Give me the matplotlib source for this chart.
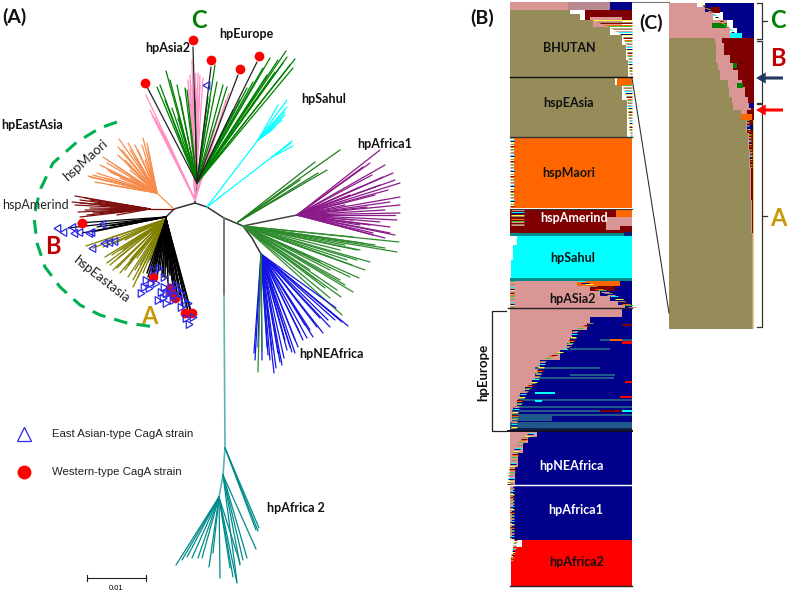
import numpy as np
import matplotlib
matplotlib.use('Agg')
from matplotlib import pyplot as plt
from matplotlib.collections import LineCollection

# colours
OLIVE_B = '#968c5a'
PINK_B = '#da9694'
NAVY = '#00008b'
DRED = '#7f0000'
ORANGE = '#ff6600'
CYAN = '#00ffff'
RED = '#ff0000'
GREEN = '#008000'
TEAL = '#008b8b'
STEEL = '#1f5a8a'
FRINGE = ['#ffff33', '#da9694', '#33cc33', '#968c5a', '#00ffff', '#da9694', '#7f0000', '#00008b', '#968c5a', '#ff6600']

#########################################
### Panel A tree in pixels
#########################################
backbone_left = [(195, 203), (174, 209), (166, 217)]
backbone_right = [(195, 203), (207, 207), (224, 218), (243, 226), (252, 238), (261, 254)]
africa1_stem = [(243, 226), (297, 215)]
asia_stem = [(195, 203), (195, 200), (197, 183)]
orange_stem = [(174, 209), (157, 193)]
dred_stem = [(174, 209), (150, 209)]
africa2_gray = [(224, 218), (224, 295)]
africa2_teal = [(224, 295), (225, 448), (223, 475), (219, 497)]

pink_tips = [(146, 95), (150, 110), (152, 115), (155, 118), (158, 125), (165, 135), (190, 75), (192, 60),
             (195, 73), (198, 73), (200, 75), (203, 78), (193, 90), (197, 95), (229, 93), (226, 100),
             (220, 110), (213, 130), (190, 90), (192, 85), (196, 88), (200, 85), (188, 80)]
europe_tips = [(166, 71), (157, 87), (160, 85), (170, 80), (177, 85), (185, 88), (165, 100), (180, 97),
               (187, 90), (195, 100), (172, 108), (178, 118), (215, 65), (217, 82), (223, 85), (227, 87),
               (208, 97), (210, 100), (286, 51), (295, 59), (293, 68), (287, 57), (278, 60), (270, 58),
               (263, 68), (253, 82), (283, 63), (290, 65), (267, 75), (247, 88), (233, 110), (240, 100),
               (255, 95), (275, 72)]
black_long = [(145, 83), (193, 47), (211, 67), (238, 75), (257, 62)]
cyan_tips_a = [(287, 100), (278, 105), (285, 112), (287, 107), (285, 115), (282, 120), (275, 127), (272, 130)]
cyan_tips_b = [(292, 141), (293, 146), (291, 143)]
maori_tips = [(119, 139), (128, 143), (143, 138), (147, 143), (118, 147), (103, 157), (97, 173), (90, 177),
              (107, 163), (88, 176), (95, 182), (110, 185), (123, 185), (130, 170), (150, 170), (138, 150),
              (125, 160), (115, 165), (148, 150), (105, 178), (140, 165), (122, 150), (130, 150), (135, 145),
              (142, 145), (100, 165), (93, 175), (110, 172), (120, 178), (130, 178), (140, 178), (145, 160),
              (128, 165), (118, 155), (108, 170), (135, 158)]
amerind_tips = [(75, 196), (72, 202), (80, 200), (85, 198), (78, 212), (87, 215), (80, 217), (93, 213),
                (107, 213), (117, 215), (80, 203), (100, 205), (90, 208), (110, 207), (125, 205),
                (90, 200), (95, 203), (75, 205), (85, 210), (100, 212), (112, 212)]
black_b_tips = [(68, 228), (78, 223), (97, 227), (82, 233), (100, 230), (92, 232), (110, 226), (120, 224)]
olive_tips = [(86, 246), (93, 248), (103, 247), (115, 243), (120, 250), (105, 257), (107, 263), (113, 270),
              (120, 273), (128, 277), (133, 287), (138, 277), (143, 273), (145, 263), (150, 260), (130, 260),
              (140, 250), (125, 240), (105, 240), (110, 265), (117, 268), (125, 270), (135, 270), (140, 265),
              (148, 262), (118, 258), (128, 265), (133, 280), (123, 250), (137, 258), (112, 255)]
black_a_tips = [(147, 273), (152, 270), (158, 267), (163, 277), (168, 283), (173, 287), (182, 300), (187, 307),
                (192, 315), (157, 277), (167, 267), (177, 293), (183, 307), (160, 270), (170, 275), (178, 285),
                (150, 280), (190, 310), (155, 272), (162, 273), (165, 278), (172, 280), (175, 290), (180, 295),
                (185, 300), (153, 275), (148, 277), (168, 272), (188, 312)]
green_up_tips = [(340, 150), (315, 162), (327, 170), (318, 173), (300, 180)]
green_right_tips = [(353, 237), (363, 243), (399, 242), (397, 252), (370, 262), (360, 250), (357, 250),
                    (359, 278), (353, 292), (341, 297), (330, 298), (350, 277), (340, 280), (342, 315),
                    (347, 260), (333, 258), (357, 260), (337, 290), (317, 280), (375, 245), (385, 248),
                    (345, 245), (352, 265), (365, 270), (345, 285), (325, 288), (310, 270), (330, 270),
                    (320, 262), (305, 255), (340, 250)]
nea_tips = [(348, 326), (336, 308), (323, 333), (313, 337), (307, 338), (295, 353), (290, 347), (282, 365),
            (274, 373), (270, 360), (254, 353), (258, 347), (267, 347), (300, 333), (278, 353), (287, 350),
            (255, 360), (330, 327), (317, 327), (295, 340), (342, 322), (328, 320), (310, 330), (303, 340),
            (298, 347), (292, 352), (284, 358), (280, 362), (276, 368), (262, 360), (268, 355), (272, 350),
            (285, 340), (305, 325), (320, 318), (335, 320)]
nea_green_tips = [(258, 372), (262, 351)]
purple_tips = [(380, 150), (370, 163), (363, 167), (393, 173), (400, 183), (380, 185), (400, 197), (390, 202),
               (400, 213), (397, 220), (390, 227), (390, 233), (373, 233), (353, 220), (367, 207), (360, 187),
               (383, 177), (395, 235), (373, 235), (385, 165), (372, 175), (395, 180), (388, 190), (375, 195),
               (400, 205), (385, 210), (395, 215), (380, 222), (370, 225), (360, 225), (385, 238), (350, 195),
               (345, 205)]
teal_right_tips = [(259, 528), (258, 531), (256, 530)]
teal_mid_tips = [(256, 549), (247, 558), (243, 560), (240, 565), (237, 582)]
teal_low_tips = [(176, 565), (182, 560), (187, 557), (192, 558), (198, 558), (202, 558), (209, 567), (213, 553),
                 (220, 578), (230, 568), (237, 583), (233, 577), (240, 563)]

tri_a = [(158, 268), (153, 270), (163, 277), (145, 280), (143, 287), (140, 293), (148, 288), (155, 283),
         (163, 287), (165, 293), (175, 285), (177, 290), (180, 293), (157, 300), (165, 303), (172, 300),
         (173, 295), (180, 307), (187, 303), (185, 318), (192, 317), (188, 324), (160, 292), (168, 293),
         (150, 283), (170, 287), (183, 300), (162, 298)]
tri_b = [(58, 228), (64, 232), (73, 227), (75, 233), (80, 232), (92, 232), (90, 233), (103, 224),
         (93, 248), (105, 243), (110, 242), (115, 241), (207, 85)]
red_dots = [(153, 277), (170, 288), (171, 292), (175, 298), (185, 313), (192, 313), (82, 223),
            (193, 40), (211, 60), (240, 69), (259, 56), (145, 83)]
ea_arc = [(117, 122), (100, 128), (77, 142), (53, 163), (40, 190), (34, 217), (37, 243), (45, 267),
          (60, 287), (80, 305), (100, 315), (127, 323), (155, 327)]

#########################################
### Panel B rows, y and edge in pixels
#########################################
bhutan_y = [10, 14, 20, 27, 35, 45, 60, 77]
bhutan_edge = [570, 580, 593, 610, 622, 626, 628, 630]
easia_y = [78, 85, 100, 137]
easia_edge = [615, 622, 627, 630]
maori_y = [138, 208]
maori_left = [514, 514]
sahul_y = [236, 245, 260, 278]
sahul_left = [517, 513, 511, 510]
asia2_y = [281, 286, 291, 296, 301, 305, 308]
asia2_edge = [577, 590, 600, 610, 618, 625, 630]
europe_y = [309, 317, 323, 330, 337, 343, 350, 360, 367, 373, 380, 387, 393, 400, 407, 414, 431]
europe_edge = [622, 590, 587, 572, 570, 567, 560, 540, 538, 535, 532, 525, 520, 517, 513, 512, 510]
nea_y = [431, 437, 443, 453, 467, 485]
nea_left = [537, 528, 523, 518, 515, 513]
africa1_y = [486, 510, 540]
africa1_left = [513, 512, 511]
africa2_y = [540, 547, 557, 586]
africa2_left = [522, 513, 511, 510]

europe_bars_y = [415, 418, 425, 429, 375, 340, 349, 368, 378, 400, 407, 411, 342, 340, 397, 382, 325, 411, 411, 393, 401]
europe_bars_x0 = [512, 512, 510, 510, 570, 600, 570, 535, 535, 518, 520, 512, 622, 610, 620, 625, 622, 622, 600, 535, 535]
europe_bars_x1 = [632, 552, 632, 632, 615, 632, 610, 600, 614, 632, 632, 600, 632, 622, 632, 632, 632, 632, 622, 555, 542]
europe_bars_h = [2, 5, 6, 3, 2, 2, 2, 2, 2, 2.5, 2.5, 2, 3, 2, 2, 2, 2, 2, 2, 2, 2]
europe_bars_c = [STEEL, STEEL, STEEL, '#10204a', STEEL, STEEL, STEEL, STEEL, STEEL, STEEL, STEEL, STEEL,
                 RED, ORANGE, RED, RED, DRED, CYAN, DRED, CYAN, CYAN]

#########################################
### Panel C rows
#########################################
c_top_y = [3, 7, 12, 20, 28, 33, 38]
c_top_pink = [697, 708, 713, 727, 730, 738, 738]
c_top_navy = [705, 705, 723, 733, 737, 742, 742]
c_y = [38, 43, 55, 63, 70, 80, 87, 97, 103, 110, 115, 120, 133, 150, 167, 200, 233, 329]
c_olive = [715, 716, 716, 718, 720, 728, 729, 732, 733, 741, 743, 746, 748, 749, 750, 751, 752, 753]
c_pink = [722, 724, 730, 733, 738, 742, 745, 748, 751, 747, 745, 747, 749, 750, 751, 752, 753, 753]

#########################################
### Text
#########################################
panel_labels = ['(A)', '(B)', '(C)']
panel_x = [14, 482, 651]
panel_y = [17, 18, 23]
clade_names = ['hpEurope', 'hpAsia2', 'hpSahul', 'hpEastAsia', 'hpAfrica1', 'hpNEAfrica', 'hpAfrica 2']
clade_x = [246, 168, 324, 32, 385, 331, 296]
clade_y = [34, 48, 99, 125, 144, 354, 508]
group_names = ['BHUTAN', 'hspEAsia', 'hspMaori', 'hspAmerind', 'hpSahul', 'hpASia2',
               'hpNEAfrica', 'hpAfrica1', 'hpAfrica2']
group_x = [569, 569, 569, 574, 573, 573, 572, 576, 577]
group_y = [48, 103, 173, 218, 258, 299, 466, 510, 562]
group_colors = ['#111111', '#111111', '#111111', 'white', '#111111', '#111111', 'white', 'white', '#111111']


def tips(ax, origin, points, color, lw=0.9):
    segs = [[origin, p] for p in points]
    ax.add_collection(LineCollection(segs, colors=color, linewidths=lw, capstyle='round'))


def path(ax, pts, color, lw=1.1):
    ax.plot([p[0] for p in pts], [p[1] for p in pts], color=color, lw=lw, solid_capstyle='round')


def rows(ax, y, x0, x1, color):
    ax.fill_betweenx(y, x0, x1, step='post', color=color, lw=0, antialiased=False)


def fringe(ax, y, edge, width, start=0, to=None, lw=0.7):
    # thin mixed rows where a block runs out
    yy = np.arange(y[0], y[-1], 1.5)
    ee = np.interp(yy, y, edge)
    for i in range(len(yy)):
        x1 = to if to is not None else ee[i] + width
        ax.plot([ee[i], x1], [yy[i], yy[i]], color=FRINGE[(i * 3 + start) % len(FRINGE)],
                lw=lw, solid_capstyle='butt')


fig = plt.figure(figsize=(7.87, 5.92), dpi=100)
ax = fig.add_axes([0, 0, 1, 1])
ax.set_xlim(0, 787)
ax.set_ylim(592, 0)
ax.axis('off')

plt.rcParams['font.family'] = ['Lato', 'DejaVu Sans']

# tree
path(ax, backbone_left, '#333333')
path(ax, backbone_right, '#333333')
path(ax, africa1_stem, '#444444')
path(ax, asia_stem, '#333333')
path(ax, orange_stem, '#f79646', 0.9)
path(ax, dred_stem, '#7f1010', 0.9)
path(ax, africa2_gray, '#777777', 1.4)
path(ax, africa2_teal, '#5fb3b3', 1.2)
tips(ax, (195, 200), pink_tips, '#ff8fc4')
tips(ax, (197, 183), europe_tips, GREEN)
tips(ax, (197, 183), black_long, '#222222')
tips(ax, (207, 207), [(258, 140)], CYAN)
tips(ax, (258, 140), cyan_tips_a, CYAN)
tips(ax, (207, 207), [(272, 157)], CYAN)
tips(ax, (272, 157), cyan_tips_b, CYAN)
tips(ax, (157, 193), maori_tips, '#f68b4a')
tips(ax, (150, 209), amerind_tips, '#7f1010')
tips(ax, (166, 217), black_b_tips, 'black')
tips(ax, (166, 219), olive_tips, '#808000')
tips(ax, (166, 219), black_a_tips, 'black', 1.1)
tips(ax, (238, 222), green_up_tips, '#1e7d1e')
tips(ax, (243, 226), green_right_tips, '#2e8b2e')
tips(ax, (261, 254), nea_tips, '#1414e6')
tips(ax, (261, 254), nea_green_tips, '#2e8b2e')
tips(ax, (297, 215), purple_tips, '#8a1a8a')
tips(ax, (225, 448), teal_right_tips, TEAL)
tips(ax, (223, 475), teal_mid_tips, TEAL)
tips(ax, (219, 497), teal_low_tips, TEAL)

ax.plot([p[0] for p in ea_arc], [p[1] for p in ea_arc], color='#00b050', lw=2.2, ls=(0, (4.5, 3)))
ax.plot([p[0] for p in red_dots], [p[1] for p in red_dots], 'o', ms=7, color=RED, mew=0)
ax.plot([p[0] for p in tri_a], [p[1] for p in tri_a], marker=(3, 0, 30), ls='', ms=6.5, mfc='none', mec='#2a2ae8', mew=0.9)
ax.plot([p[0] for p in tri_b], [p[1] for p in tri_b], marker=(3, 0, 90), ls='', ms=6.5, mfc='none', mec='#2a2ae8', mew=0.9)

# legend and scale bar
ax.plot([24], [434], '^', ms=10, mfc='none', mec='#2a2ae8', mew=0.9)
ax.plot([24], [472], 'o', ms=10, color=RED, mew=0)
ax.text(52, 434, 'East Asian-type CagA strain', fontsize=8.2, family='Liberation Sans', va='center', color='#222222')
ax.text(52, 472, 'Western-type CagA strain', fontsize=8.2, family='Liberation Sans', va='center', color='#222222')
ax.plot([87, 87, 87, 146, 146, 146], [575, 581, 578, 578, 575, 581], color='#222222', lw=0.8)
ax.text(116, 589, '0.01', fontsize=5.5, family='Liberation Sans', ha='center', va='center')

# panel B blocks
rows(ax, [2, 10], [510, 510], [568, 568], PINK_B)
rows(ax, [2, 10], [568, 568], [610, 610], '#b98a92')
rows(ax, [2, 10], [610, 610], [632, 632], NAVY)
rows(ax, [10, 20], [585, 585], [632, 632], DRED)
rows(ax, [17, 27], [590, 590], [622, 622], PINK_B)
rows(ax, bhutan_y, [510] * 8, bhutan_edge, OLIVE_B)
fringe(ax, bhutan_y[2:], bhutan_edge[2:], 0, to=632)
rows(ax, easia_y, [510] * 4, easia_edge, OLIVE_B)
rows(ax, [78, 86], [617, 617], [632, 632], ORANGE)
fringe(ax, easia_y[1:], easia_edge[1:], 0, 2, to=632)
rows(ax, maori_y, maori_left, [632, 632], ORANGE)
fringe(ax, [138, 208], [510, 510], 4, 1, to=514)
rows(ax, [209, 233], [510, 510], [632, 632], DRED)
fringe(ax, [210, 226], [511, 511], 0, 1, to=524)
rows(ax, [210, 217], [616, 616], [632, 632], ORANGE)
rows(ax, [217, 230], [606, 606], [632, 632], PINK_B)
rows(ax, [226, 233], [620, 620], [632, 632], DRED)
rows(ax, [233, 236], [510, 510], [632, 632], TEAL)
rows(ax, [232, 237], [624, 624], [632, 632], '#10207a')
rows(ax, sahul_y, sahul_left, [632] * 4, CYAN)
rows(ax, [278, 281], [510, 510], [632, 632], TEAL)
rows(ax, [281, 308], [577, 577], [632, 632], NAVY)
rows(ax, [281, 286], [577, 577], [620, 620], ORANGE)
rows(ax, [286, 291], [590, 590], [615, 615], DRED)
rows(ax, asia2_y, [510] * 7, asia2_edge, PINK_B)
fringe(ax, asia2_y, asia2_edge, 8, 4)
fringe(ax, [281, 308], [510, 510], 4, 2, to=514)
rows(ax, europe_y, [510] * 17, europe_edge, PINK_B)
rows(ax, europe_y, europe_edge, [632] * 17, NAVY)
fringe(ax, europe_y[2:], europe_edge[2:], 6, 3)
ax.barh(europe_bars_y, np.array(europe_bars_x1) - np.array(europe_bars_x0), left=europe_bars_x0,
        height=europe_bars_h, color=europe_bars_c, lw=0)
rows(ax, nea_y, [510] * 6, nea_left, PINK_B)
rows(ax, nea_y, nea_left, [632] * 6, NAVY)
fringe(ax, nea_y, nea_left, -6, 1)
rows(ax, africa1_y, [510] * 3, africa1_left, PINK_B)
rows(ax, africa1_y, africa1_left, [632] * 3, NAVY)
fringe(ax, [486, 540], [510, 510], 4, 5)
rows(ax, africa2_y, africa2_left, [632] * 4, RED)
fringe(ax, [540, 560], [514, 510], 3, 6)
ax.plot([510, 632], [77, 77], color='#111111', lw=1)
ax.plot([510, 632], [137, 137], color='#333333', lw=1)
ax.plot([510, 632], [209, 209], color='#333333', lw=0.8)
ax.plot([508, 632], [308, 308], color='#222222', lw=1)
ax.plot([508, 632], [431, 431], color='#111122', lw=1.4)
ax.plot([510, 632], [485, 485], color='white', lw=1)
ax.plot([510, 632], [586, 586], color='#222222', lw=1)

# hpEurope bracket
ax.plot([506, 492, 492, 506], [311, 311, 431, 431], color='#222222', lw=0.9)

# connectors to panel C
ax.plot([632, 669], [2, 2], color='#777777', lw=0.8)
ax.plot([632, 669], [78, 313], color='#333333', lw=0.8)

# panel C
rows(ax, c_top_y, [669] * 7, c_top_pink, PINK_B)
rows(ax, c_top_y, c_top_navy, [754] * 7, NAVY)
rows(ax, [7, 13], [710, 710], [720, 720], DRED)
rows(ax, [23, 28], [712, 712], [727, 727], GREEN)
rows(ax, [33, 38], [730, 730], [742, 742], CYAN)
fringe(ax, [3, 33], [700, 733], 3, 0)
rows(ax, c_y, [669] * 18, [754] * 18, DRED)
rows(ax, c_y, c_olive, c_pink, PINK_B)
rows(ax, c_y, [669] * 18, c_olive, OLIVE_B)
rows(ax, [63, 68], [733, 733], [737, 737], GREEN)
rows(ax, [83, 88], [737, 737], [743, 743], GREEN)
rows(ax, [103, 108], [749, 749], [754, 754], NAVY)
rows(ax, [114, 120], [741, 741], [752, 752], ORANGE)
rows(ax, [125, 130], [747, 747], [754, 754], NAVY)
rows(ax, [120, 329], [753, 753], [754, 754], '#d8d878')
fringe(ax, c_y[11:15], c_olive[11:15], 2.5, 2, lw=0.6)

# brackets for C / B / A
ax.plot([757, 762, 762, 757], [3, 3, 39, 39], color='#333333', lw=0.9)
ax.plot([762, 767], [21, 21], color='#333333', lw=0.9)
ax.plot([757, 762, 762, 757], [41, 41, 103, 103], color='#333333', lw=0.9)
ax.plot([757, 762, 762, 757], [104, 104, 327, 327], color='#333333', lw=0.9)
ax.plot([762, 767], [216, 216], color='#333333', lw=0.9)
ax.annotate('', xy=(756, 78), xytext=(783, 78), arrowprops=dict(width=2.2, headwidth=8, headlength=7, color='#1f3864', lw=0))
ax.annotate('', xy=(756, 110), xytext=(783, 110), arrowprops=dict(width=2.2, headwidth=8, headlength=7, color=RED, lw=0))

# text
for s, x, y in zip(panel_labels, panel_x, panel_y):
    ax.text(x, y, s, fontsize=14, fontweight='bold', ha='center', va='center', color='#111111')
for s, x, y in zip(clade_names, clade_x, clade_y):
    ax.text(x, y, s, fontsize=9, fontweight='bold', ha='center', va='center', color='#111111')
for s, x, y, c in zip(group_names, group_x, group_y, group_colors):
    ax.text(x, y, s, fontsize=9, fontweight='bold', ha='center', va='center', color=c)
ax.text(483, 372, 'hpEurope', fontsize=9.5, fontweight='bold', rotation=90, ha='center', va='center', color='#111111')
ax.text(86, 160, 'hspMaori', fontsize=9.5, rotation=42, ha='center', va='center', color='#222222')
ax.text(35, 205, 'hspAmerind', fontsize=9, ha='center', va='center', color='#222222')
ax.text(101, 279, 'hspEastasia', fontsize=9.5, rotation=-38, ha='center', va='center', color='#222222')
ax.text(199, 21, 'C', fontsize=17, fontweight='bold', ha='center', va='center', color=GREEN)
ax.text(53, 246, 'B', fontsize=17, fontweight='bold', ha='center', va='center', color='#c00000')
ax.text(149, 316, 'A', fontsize=17, fontweight='bold', ha='center', va='center', color='#c8980a')
ax.text(778, 21, 'C', fontsize=17, fontweight='bold', ha='center', va='center', color=GREEN)
ax.text(778, 58, 'B', fontsize=17, fontweight='bold', ha='center', va='center', color='#c00000')
ax.text(778, 218, 'A', fontsize=17, fontweight='bold', ha='center', va='center', color='#c8980a')

plt.savefig('out.png', dpi=100)
